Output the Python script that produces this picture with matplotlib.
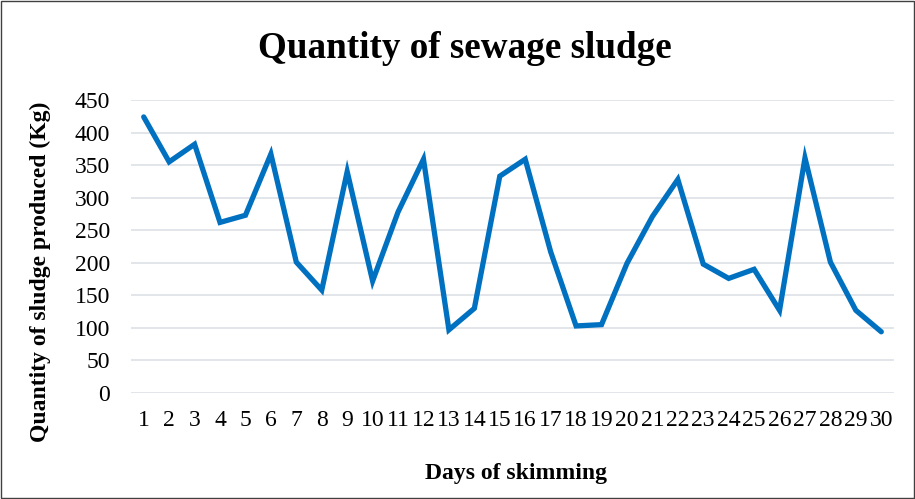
import matplotlib.pyplot as plt
from matplotlib.patches import Rectangle

# data
days = list(range(1, 31))
sludge_kg = [424, 355, 382, 262, 273, 367, 201, 158, 340, 172,
             278, 359, 97, 130, 333, 359, 217, 103, 105, 199,
             271, 328, 198, 176, 190, 127, 361, 201, 127, 94]
y_ticks = list(range(0, 451, 50))

plt.rcParams['font.family'] = ['Liberation Serif', 'DejaVu Serif']

fig = plt.figure(figsize=(9.15, 4.99), dpi=100)
ax = fig.add_axes([131 / 915, 1 - 393 / 499, 763 / 915, 293 / 499])

ax.plot(days, sludge_kg, color='#0070C0', linewidth=3.8,
        solid_joinstyle='miter', solid_capstyle='round')

ax.set_xlim(0.5, 30.5)
ax.set_ylim(0, 450)
ax.set_yticks(y_ticks)
ax.set_xticks(days)
ax.set_xticklabels([str(d) for d in days])
ax.tick_params(axis='both', length=0, labelsize=17, colors='black')
ax.tick_params(axis='y', pad=15)
ax.tick_params(axis='x', pad=12)
ax.grid(axis='y', color='#DDE1E8', linewidth=1.2)
ax.set_axisbelow(True)
for s in ax.spines.values():
    s.set_visible(False)

fig.text(465 / 915, 1 - 49 / 499, 'Quantity of sewage sludge', ha='center', va='center',
         fontsize=26.7, fontweight='bold')
fig.text(516 / 915, 1 - 473 / 499, 'Days of skimming', ha='center', va='center',
         fontsize=17, fontweight='bold')
fig.text(40 / 915, 1 - 272 / 499, 'Quantity of sludge produced (Kg)', ha='center', va='center',
         rotation=90, fontsize=17, fontweight='bold')

# outer chart border
fig.patches.append(Rectangle((0.001, 0.002), 0.998, 0.996, transform=fig.transFigure,
                             fill=False, edgecolor='#404040', linewidth=1))

fig.savefig('out.png', dpi=100)
